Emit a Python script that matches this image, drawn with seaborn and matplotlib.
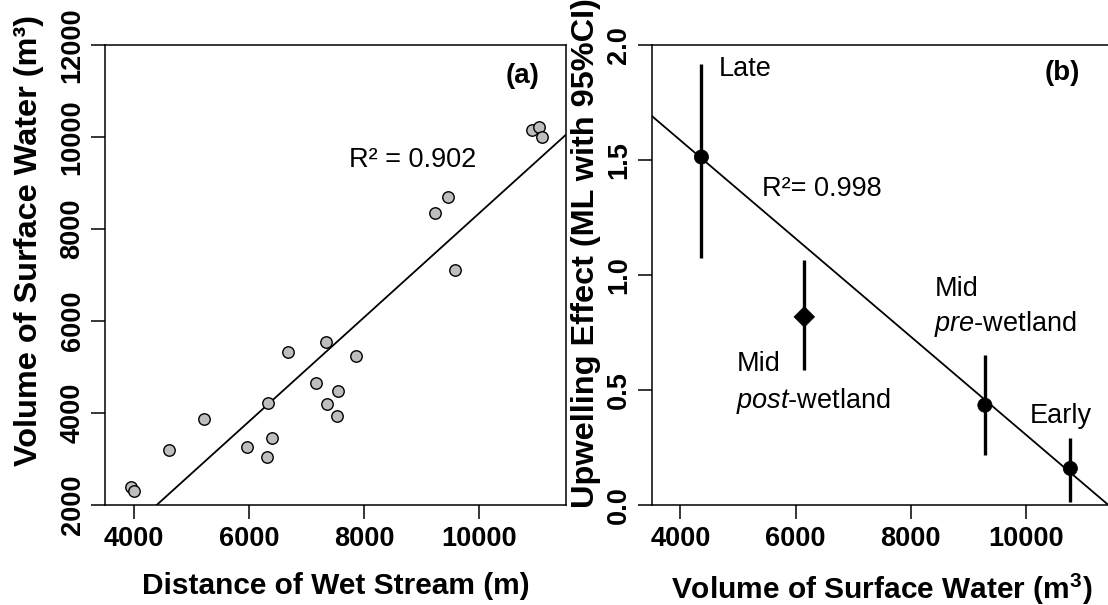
import matplotlib
matplotlib.use("Agg")
import matplotlib.pyplot as plt
import seaborn as sns
import numpy as np
import pandas as pd

# ---------------- data ----------------
# Panel (a): distance of wet stream (m) vs volume of surface water (m3)
stream_distance = [3954, 4000, 4606, 5218, 5963, 6321, 6339, 6408, 6685, 7170,
                   7338, 7361, 7546, 7528, 7863, 9232, 9457, 9578, 10918, 11034, 11091]
surface_volume = [2398, 2311, 3193, 3866, 3265, 3048, 4213, 3461, 5333, 4654,
                  5543, 4198, 4480, 3931, 5232, 8341, 8696, 7119, 10156, 10221, 9997]

# Panel (b): upwelling effect by period
periods = ["Late", "Mid post-wetland", "Mid pre-wetland", "Early"]
period_volume = [4364, 6152, 9291, 10776]
effect_ml = [1.513, 0.818, 0.434, 0.159]
ci_low = [1.073, 0.587, 0.217, 0.014]
ci_high = [1.917, 1.067, 0.651, 0.292]
marker_kind = ["circle", "diamond", "circle", "circle"]
in_fit = [True, False, True, True]

x_ticks = [4000, 6000, 8000, 10000]
y_ticks_a = [2000, 4000, 6000, 8000, 10000, 12000]
y_ticks_b = [0.0, 0.5, 1.0, 1.5, 2.0]
y_tick_labels_b = ["0.0", "0.5", "1.0", "1.5", "2.0"]

# ---------------- style ----------------
sns.set_style("ticks")
plt.rcParams["font.family"] = ["Liberation Sans", "DejaVu Sans"]
plt.rcParams["text.color"] = "black"
plt.rcParams["axes.labelcolor"] = "black"
plt.rcParams["xtick.color"] = "black"
plt.rcParams["ytick.color"] = "black"
plt.rcParams["mathtext.fontset"] = "custom"
plt.rcParams["mathtext.rm"] = "Liberation Sans"
plt.rcParams["mathtext.it"] = "Liberation Sans:italic"
plt.rcParams["mathtext.bf"] = "Liberation Sans:bold"

df_a = pd.DataFrame({"dist": stream_distance, "vol": surface_volume})
df_b = pd.DataFrame({"vol": period_volume, "eff": effect_ml, "lo": ci_low,
                     "hi": ci_high, "kind": marker_kind, "fit": in_fit,
                     "period": periods})

fig = plt.figure(figsize=(11.08, 6.05), dpi=100)
W, H = 1108, 605
ax1 = fig.add_axes([105 / W, (H - 505) / H, 460.7 / W, 460 / H])
ax2 = fig.add_axes([651.7 / W, (H - 505) / H, 460.3 / W, 460 / H])

tick_fs = 19.5
xlabel_fs = 21.5
ylabel_fs = 23.4
text_fs = 19.5

for ax in (ax1, ax2):
    for s in ax.spines.values():
        s.set_linewidth(1.1)
        s.set_color("black")
    ax.tick_params(axis="both", direction="out", length=10, width=1.1,
                   colors="black", labelcolor="black", labelsize=tick_fs)
    ax.set_xlim(3500, 11500)
    ax.set_xticks(x_ticks)
    ax.set_xticklabels([str(v) for v in x_ticks], fontweight="bold")
    ax.tick_params(axis="x", pad=5)
    ax.tick_params(axis="y", pad=4)

# ---- panel (a)
ax1.set_ylim(2000, 12000)
ax1.set_yticks(y_ticks_a)
ax1.set_yticklabels([str(v) for v in y_ticks_a], fontweight="bold",
                    rotation=90, va="center")
sns.regplot(data=df_a, x="dist", y="vol", ax=ax1, scatter=False, ci=None,
            truncate=False, line_kws={"color": "black", "lw": 1.3})
sns.scatterplot(data=df_a, x="dist", y="vol", ax=ax1, s=68, color="#BEBEBE",
                edgecolor="black", linewidth=1.0, zorder=3)
ax1.set_xlim(3500, 11500)
ax1.set_ylim(2000, 12000)
ax1.set_xlabel("Distance of Wet Stream (m)", fontsize=xlabel_fs, fontweight="bold")
ax1.set_ylabel("Volume of Surface Water (m³)", fontsize=ylabel_fs, fontweight="bold")
ax1.xaxis.set_label_coords(0.5, -0.145)
ax1.yaxis.set_label_coords(-0.132, 0.576)
ax1.text(7736, 9491, "R² = 0.902", fontsize=text_fs, va="center", ha="left")
ax1.text(10751, 11335, "(a)", fontsize=text_fs + 0.5, fontweight="bold",
         va="center", ha="center")

# ---- panel (b)
ax2.set_ylim(0, 2.0)
ax2.set_yticks(y_ticks_b)
ax2.set_yticklabels(y_tick_labels_b, fontweight="bold", rotation=90, va="center")
sns.regplot(data=df_b[df_b["fit"]], x="vol", y="eff", ax=ax2, scatter=False,
            ci=None, truncate=False, line_kws={"color": "black", "lw": 1.3})
ax2.vlines(df_b["vol"], df_b["lo"], df_b["hi"], color="black", lw=2.4, zorder=3)
sns.scatterplot(data=df_b, x="vol", y="eff", ax=ax2, style="kind",
                markers={"circle": "o", "diamond": "D"},
                size="kind", sizes={"circle": 105, "diamond": 110},
                color="black", edgecolor="black", linewidth=0.5,
                legend=False, zorder=4)
ax2.set_xlim(3500, 11500)
ax2.set_ylim(0, 2.0)
ax2.set_xlabel("Volume of Surface Water (m$^{\\mathbf{3}}$)", fontsize=xlabel_fs,
               fontweight="bold")
ax2.set_ylabel("Upwelling Effect (ML with 95%CI)", fontsize=ylabel_fs,
               fontweight="bold")
ax2.xaxis.set_label_coords(0.5, -0.145)
ax2.yaxis.set_label_coords(-0.110, 0.548)

ax2.text(4667, 1.896, "Late", fontsize=text_fs, va="center", ha="left")
ax2.text(10636, 1.877, "(b)", fontsize=text_fs + 0.5, fontweight="bold",
         va="center", ha="center")
ax2.text(5424, 1.374, "R²= 0.998", fontsize=text_fs, va="center", ha="left")
ax2.text(4970, 0.612, "Mid", fontsize=text_fs, va="center", ha="left")
ax2.text(4970, 0.453, "$\\it{post}$-wetland", fontsize=text_fs, va="center", ha="left")
ax2.text(8412, 0.940, "Mid", fontsize=text_fs, va="center", ha="left")
ax2.text(8412, 0.785, "$\\it{pre}$-wetland", fontsize=text_fs, va="center", ha="left")
ax2.text(10079, 0.388, "Early", fontsize=text_fs, va="center", ha="left")

fig.savefig("out.png", dpi=100)
